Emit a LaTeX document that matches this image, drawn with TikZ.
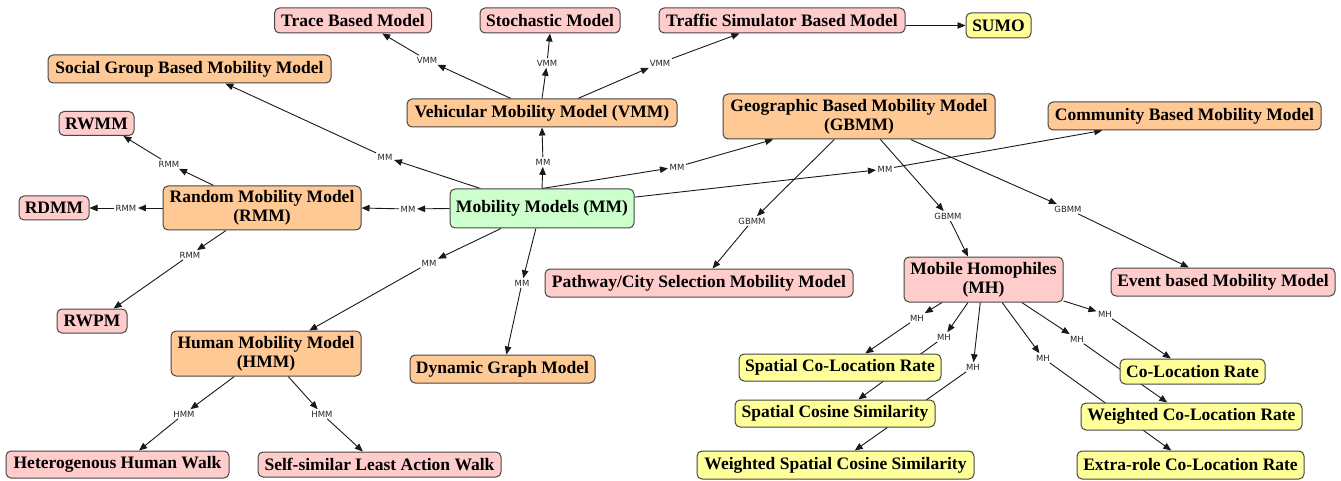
\documentclass[tikz,border=0pt]{standalone}
\usepackage{fontspec}
\setmainfont{Liberation Serif}
\newfontfamily\lblfont{DejaVu Sans}
\usetikzlibrary{arrows.meta,backgrounds}

\definecolor{pinkbox}{RGB}{255,204,204}
\definecolor{orangebox}{RGB}{255,201,150}
\definecolor{greenbox}{RGB}{204,255,204}
\definecolor{yellowbox}{RGB}{255,255,153}
\definecolor{boxline}{RGB}{70,70,70}
\definecolor{edgeline}{RGB}{25,25,25}

\tikzset{
  box/.style={draw=boxline, line width=1pt, rounded corners=5pt, inner sep=0pt,
    align=center, font=\fontsize{17.5}{19}\selectfont\bfseries},
  sz/.style 2 args={minimum width=#1pt, minimum height=#2pt},
  pinkn/.style={box, fill=pinkbox},
  orangen/.style={box, fill=orangebox},
  greenn/.style={box, fill=greenbox},
  yellown/.style={box, fill=yellowbox},
  lbl/.style={font=\lblfont\fontsize{8.5}{9}\selectfont, inner sep=1.5pt, text=black!85},
  arr/.style={draw=edgeline, line width=0.9pt, -{Triangle[length=8pt,width=6.5pt]}},
}

\begin{document}
\begin{tikzpicture}[x=1pt, y=-1pt]
\begin{pgfonlayer}{background}
  \fill[white] (0,0) rectangle (1341,481);
\end{pgfonlayer}
\useasboundingbox (0,0) rectangle (1341,481);

% ---- model boxes ----
\node[pinkn, sz={157}{25}]   (trace)     at (353,20.5)    {Trace Based Model};
\node[pinkn, sz={140}{25}]   (stoch)     at (550,20.5)    {Stochastic Model};
\node[pinkn, sz={246}{25}]   (traffic)   at (782,20.5)    {Traffic Simulator Based Model};
\node[yellown, sz={65}{25}]  (sumo)      at (998.5,25.5)  {SUMO};
\node[orangen, sz={283}{28}] (social)    at (189.5,69)    {Social Group Based Mobility Model};
\node[orangen, sz={270}{28}] (vmm)       at (542,113)     {Vehicular Mobility Model (VMM)};
\node[orangen, sz={272}{45}] (gbmm)      at (859,116.5)   {Geographic Based Mobility Model\\(GBMM)};
\node[orangen, sz={273}{28}] (community) at (1184.5,116)  {Community Based Mobility Model};
\node[pinkn, sz={75}{24}]    (rwmm)      at (96.5,123.5)  {RWMM};
\node[orangen, sz={198}{44}] (rmm)       at (262,208)     {Random Mobility Model\\(RMM)};
\node[pinkn, sz={70}{24}]    (rdmm)      at (54,208)      {RDMM};
\node[greenn, sz={184}{39}]  (mm)        at (542,208.5)   {Mobility Models (MM)};
\node[pinkn, sz={308}{28}]   (pathway)   at (699,283)     {Pathway/City Selection Mobility Model};
\node[pinkn, sz={159}{45}]   (mh)        at (983.5,279.5) {Mobile Homophiles\\(MH)};
\node[pinkn, sz={224}{28}]   (event)     at (1223,282)    {Event based Mobility Model};
\node[pinkn, sz={70}{24}]    (rwpm)      at (92,321)      {RWPM};
\node[orangen, sz={190}{45}] (hmm)       at (266,353.5)   {Human Mobility Model\\(HMM)};
\node[orangen, sz={185}{28}] (dyn)       at (502.5,369)   {Dynamic Graph Model};
\node[yellown, sz={202}{27}] (sclr)      at (840,367.5)   {Spatial Co-Location Rate};
\node[yellown, sz={145}{25}] (clr)       at (1192.5,371.5){Co-Location Rate};
\node[yellown, sz={200}{27}] (scs)       at (835,413.5)   {Spatial Cosine Similarity};
\node[yellown, sz={221}{27}] (wclr)      at (1191.5,416.5){Weighted Co-Location Rate};
\node[pinkn, sz={223}{27}]   (het)       at (117.5,464.5) {Heterogenous Human Walk};
\node[pinkn, sz={243}{25}]   (self)      at (379.5,464.5) {Self-similar Least Action Walk};
\node[yellown, sz={277}{28}] (wscs)      at (835.5,465)   {Weighted Spatial Cosine Similarity};
\node[yellown, sz={227}{28}] (extra)     at (1190.5,465)  {Extra-role Co-Location Rate};

% ---- edge labels ----
\node[lbl] (l1)  at (427,60)   {VMM};
\node[lbl] (l2)  at (547,63)   {VMM};
\node[lbl] (l3)  at (660,63)   {VMM};
\node[lbl] (l5)  at (385,157)  {MM};
\node[lbl] (l6)  at (543,162)  {MM};
\node[lbl] (l7)  at (677,167)  {MM};
\node[lbl] (l8)  at (885,169)  {MM};
\node[lbl] (l9)  at (408,209)  {MM};
\node[lbl] (l10) at (169,164)  {RMM};
\node[lbl] (l11) at (126,208)  {RMM};
\node[lbl] (l12) at (190,255)  {RMM};
\node[lbl] (l13) at (429,263)  {MM};
\node[lbl] (l14) at (522,283)  {MM};
\node[lbl] (l15) at (752,221)  {GBMM};
\node[lbl] (l16) at (948,216)  {GBMM};
\node[lbl] (l17) at (1068,209) {GBMM};
\node[lbl] (l18) at (184,414)  {HMM};
\node[lbl] (l19) at (322,414)  {HMM};
\node[lbl] (l20) at (917,318)  {MH};
\node[lbl] (l21) at (944,337)  {MH};
\node[lbl] (l22) at (973,367)  {MH};
\node[lbl] (l23) at (1043,358) {MH};
\node[lbl] (l24) at (1077,339) {MH};
\node[lbl] (l25) at (1105,314) {MH};

% ---- connectors (behind the boxes) ----
\begin{pgfonlayer}{background}
  \draw[arr] (vmm.155) -- (l1);  \draw[arr] (l1) -- (trace.336);
  \draw[arr] (vmm.north) -- (l2); \draw[arr] (l2) -- (stoch.south);
  \draw[arr] (vmm.22) -- (l3);   \draw[arr] (l3) -- (traffic.197);
  \draw[arr] (traffic.east |- sumo) -- (sumo.west);
  \draw[arr] (mm.162) -- (l5);   \draw[arr] (l5) -- (social.338);
  \draw[arr] (mm.north) -- (l6); \draw[arr] (l6) -- (vmm.south);
  \draw[arr] (mm.north) -- (l7); \draw[arr] (l7) -- (gbmm.195);
  \draw[arr] (mm.7) -- (l8);     \draw[arr] (l8) -- (community.190);
  \draw[arr] (mm.west) -- (l9);  \draw[arr] (l9) -- (rmm.east);
  \draw[arr] (rmm.155) -- (l10); \draw[arr] (l10) -- (rwmm.335);
  \draw[arr] (rmm.west) -- (l11);\draw[arr] (l11) -- (rdmm.east);
  \draw[arr] (rmm.212) -- (l12); \draw[arr] (l12) -- (rwpm.30);
  \draw[arr] (mm.206) -- (l13);  \draw[arr] (l13) -- (hmm.28);
  \draw[arr] (mm.253) -- (l14);  \draw[arr] (l14) -- (dyn.75);
  \draw[arr] (gbmm.223) -- (l15);\draw[arr] (l15) -- (pathway.47);
  \draw[arr] (gbmm.313) -- (l16);\draw[arr] (l16) -- (mh.124);
  \draw[arr] (gbmm.336) -- (l17);\draw[arr] (l17) -- (event.157);
  \draw[arr] (hmm.216) -- (l18); \draw[arr] (l18) -- (het.33);
  \draw[arr] (hmm.314) -- (l19); \draw[arr] (l19) -- (self.142);
  \draw[arr] (mh.209) -- (l20);  \draw[arr] (l20) -- (sclr.29);
  \draw[arr] (mh.236) -- (l21);  \draw[arr] (l21) -- (scs.31);
  \draw[arr] (mh.262) -- (l22);  \draw[arr] (l22) -- (wscs.37);
  \draw[arr] (mh.309) -- (l23);  \draw[arr] (l23) -- (extra.143);
  \draw[arr] (mh.329) -- (l24);  \draw[arr] (l24) -- (wclr.150);
  \draw[arr] (mh.345) -- (l25);  \draw[arr] (l25) -- (clr.149);
\end{pgfonlayer}
\end{tikzpicture}
\end{document}
